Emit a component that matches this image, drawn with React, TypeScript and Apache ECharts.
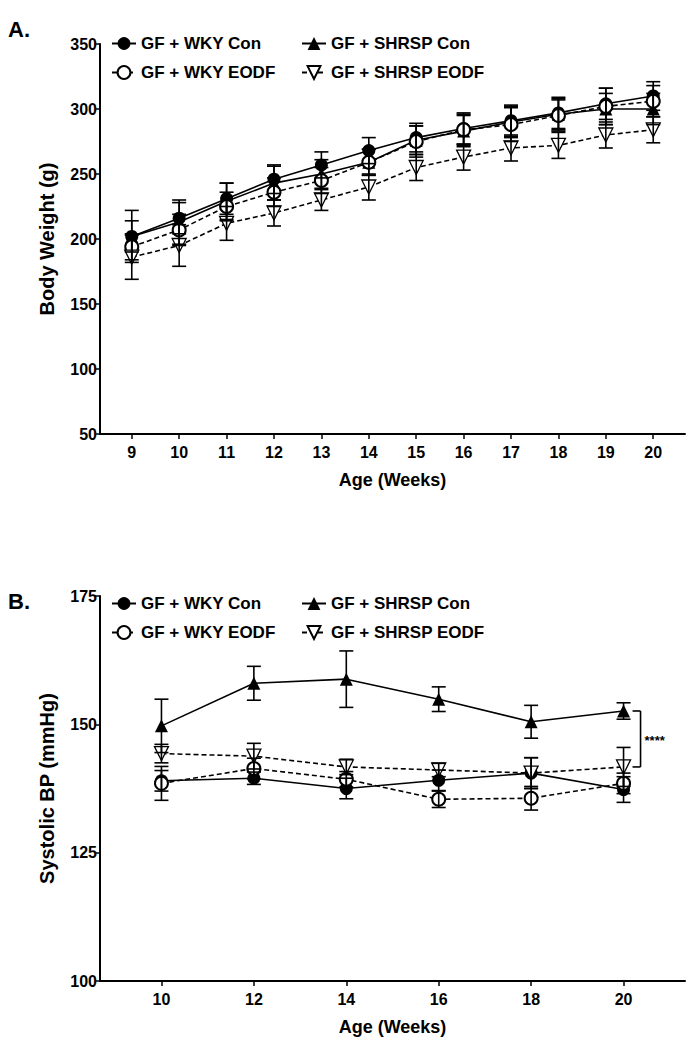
import React, { useEffect, useRef } from "react";
import * as echarts from "echarts";

const FONT = "'Liberation Sans', Arial, Helvetica, sans-serif";

// Panel A: body weight
const weeksA = [9, 10, 11, 12, 13, 14, 15, 16, 17, 18, 19, 20];
const wkyConA = [202, 216, 231, 246, 257, 268, 278, 285, 291, 297, 304, 310];
const wkyConAErr = [12, 12, 12, 11, 10, 10, 11, 12, 12, 12, 12, 11];
const shrspConA = [202, 213, 229, 243, 250, 259, 276, 283, 290, 296, 300, 300];
const shrspConAErr = [20, 17, 14, 13, 11, 10, 11, 12, 12, 12, 12, 12];
const wkyEodfA = [194, 207, 225, 236, 245, 259, 275, 284, 288, 295, 302, 306];
const wkyEodfAErr = [10, 12, 11, 11, 10, 10, 12, 12, 13, 12, 14, 12];
const shrspEodfA = [186, 195, 212, 220, 230, 240, 255, 263, 270, 272, 280, 284];
const shrspEodfAErr = [17, 16, 13, 10, 8, 10, 10, 10, 10, 10, 10, 10];

// Panel B: systolic BP
const weeksB = [10, 12, 14, 16, 18, 20];
const wkyConB = [139.0, 139.5, 137.5, 139.1, 140.5, 137.3];
const wkyConBErr = [2.0, 1.2, 2.0, 2.0, 3.0, 2.5];
const shrspConB = [149.7, 158.0, 158.8, 154.9, 150.5, 152.6];
const shrspConBErr = [5.2, 3.3, 5.5, 2.4, 3.2, 1.6];
const wkyEodfB = [138.5, 141.4, 139.3, 135.4, 135.6, 138.5];
const wkyEodfBErr = [3.3, 2.0, 1.5, 1.6, 2.3, 2.0];
const shrspEodfB = [144.3, 143.8, 141.7, 141.1, 140.5, 141.7];
const shrspEodfBErr = [1.8, 2.5, 1.5, 1.3, 3.0, 3.8];

const yTicksA = [50, 100, 150, 200, 250, 300, 350];
const yTicksB = [100, 125, 150, 175];
const sigLabel = "****";

const NAMES = ["GF + WKY Con", "GF + SHRSP Con", "GF + WKY EODF", "GF + SHRSP EODF"];
const INV_TRI = "path://M0,0 L10,0 L5,9 Z";

const styles: any[] = [
  { symbol: "circle", dash: "solid", item: { color: "#000" } },
  { symbol: "triangle", dash: "solid", item: { color: "#000" } },
  { symbol: "emptyCircle", dash: [5, 3], item: { color: "#000", borderWidth: 1.3 } },
  { symbol: INV_TRI, dash: [5, 3], item: { color: "#fff", borderColor: "#000", borderWidth: 1.3 } },
];

function errRender(params: any, api: any) {
  const x = api.value(0);
  const y = api.value(1);
  const e = api.value(2);
  const t = api.coord([x, y + e]);
  const b = api.coord([x, y - e]);
  const w = 7;
  const st = { stroke: "#000", lineWidth: 1.6 };
  return {
    type: "group",
    children: [
      { type: "line", shape: { x1: t[0], y1: t[1], x2: b[0], y2: b[1] }, style: st },
      { type: "line", shape: { x1: t[0] - w, y1: t[1], x2: t[0] + w, y2: t[1] }, style: st },
      { type: "line", shape: { x1: b[0] - w, y1: b[1], x2: b[0] + w, y2: b[1] }, style: st },
    ],
  };
}

function bracketRender(params: any, api: any) {
  const x = api.value(0);
  const p1 = api.coord([x, api.value(1)]);
  const p2 = api.coord([x, api.value(2)]);
  const bx = p1[0] + 17;
  const st = { stroke: "#000", lineWidth: 1.6 };
  return {
    type: "group",
    children: [
      { type: "line", shape: { x1: bx, y1: p1[1], x2: bx, y2: p2[1] }, style: st },
      { type: "line", shape: { x1: bx - 8, y1: p1[1], x2: bx, y2: p1[1] }, style: st },
      { type: "line", shape: { x1: bx - 8, y1: p2[1], x2: bx, y2: p2[1] }, style: st },
      {
        type: "text",
        x: bx + 4,
        y: (p1[1] + p2[1]) / 2 + 2,
        style: {
          text: sigLabel,
          font: "bold 13px " + FONT,
          fill: "#000",
          verticalAlign: "middle",
          align: "left",
        },
      },
    ],
  };
}

export default function App() {
  const ref = useRef<HTMLDivElement>(null);

  useEffect(() => {
    if (!ref.current) return;
    const chart = echarts.init(ref.current, null, { renderer: "svg" });

    const dataA = [wkyConA, shrspConA, wkyEodfA, shrspEodfA];
    const errA = [wkyConAErr, shrspConAErr, wkyEodfAErr, shrspEodfAErr];
    const dataB = [wkyConB, shrspConB, wkyEodfB, shrspEodfB];
    const errB = [wkyConBErr, shrspConBErr, wkyEodfBErr, shrspEodfBErr];

    const series: any[] = [];
    [0, 1].forEach((g) => {
      const weeks = g === 0 ? weeksA : weeksB;
      const data = g === 0 ? dataA : dataB;
      const err = g === 0 ? errA : errB;
      for (let i = 0; i < 4; i++) {
        const s = styles[i];
        series.push({
          type: "line",
          name: NAMES[i],
          xAxisIndex: g,
          yAxisIndex: g,
          data: weeks.map((w, k) => [w, data[i][k]]),
          symbol: s.symbol,
          symbolSize: i === 3 ? 14 : 13,
          showAllSymbol: true,
          lineStyle: { color: "#000", width: 1.6, type: s.dash },
          itemStyle: s.item,
          z: 2,
        });
      }
      for (let i = 0; i < 4; i++) {
        series.push({
          type: "custom",
          name: "err" + g + i,
          xAxisIndex: g,
          yAxisIndex: g,
          renderItem: errRender,
          data: weeks.map((w, k) => [w, data[i][k], err[i][k]]),
          z: 5,
          silent: true,
        });
      }
    });
    const lastB = weeksB.length - 1;
    series.push({
      type: "custom",
      name: "bracket",
      xAxisIndex: 1,
      yAxisIndex: 1,
      renderItem: bracketRender,
      data: [[weeksB[lastB], shrspConB[lastB], shrspEodfB[lastB]]],
      z: 6,
      silent: true,
      clip: false,
    });

    const legText = { fontSize: 17, fontWeight: "bold", color: "#000", fontFamily: FONT };
    const mkLegend = (left: number, top: number, data: string[]) => ({
      left,
      top,
      orient: "vertical",
      itemGap: 12,
      itemWidth: 24,
      itemHeight: 16,
      selectedMode: false,
      padding: 0,
      textStyle: legText,
      data,
    });

    const axisLabelStyle = { fontSize: 16, fontWeight: "bold", color: "#000", fontFamily: FONT };
    const xNameStyle = { fontSize: 18, fontWeight: "bold", color: "#000", fontFamily: FONT };
    const yNameStyle = { fontSize: 20, fontWeight: "bold", color: "#000", fontFamily: FONT };
    const axLine = { show: true, lineStyle: { color: "#000", width: 2 } };
    const axTick = { show: true, length: 5, lineStyle: { color: "#000", width: 1.5 } };

    chart.setOption({
      animation: false,
      textStyle: { fontFamily: FONT },
      grid: [
        { left: 100, width: 585, top: 44, height: 390 },
        { left: 100, width: 585, top: 596, height: 385 },
      ],
      xAxis: [
        {
          type: "value",
          gridIndex: 0,
          min: 8.33,
          max: 20.67,
          name: "Age (Weeks)",
          nameLocation: "middle",
          nameGap: 37,
          nameTextStyle: xNameStyle,
          axisLine: axLine,
          axisTick: { ...axTick, customValues: weeksA },
          axisLabel: { ...axisLabelStyle, margin: 10, customValues: weeksA },
          splitLine: { show: false },
        },
        {
          type: "value",
          gridIndex: 1,
          min: 8.67,
          max: 21.33,
          name: "Age (Weeks)",
          nameLocation: "middle",
          nameGap: 37,
          nameTextStyle: xNameStyle,
          axisLine: axLine,
          axisTick: { ...axTick, customValues: weeksB },
          axisLabel: { ...axisLabelStyle, margin: 10, customValues: weeksB },
          splitLine: { show: false },
        },
      ],
      yAxis: [
        {
          type: "value",
          gridIndex: 0,
          min: yTicksA[0],
          max: yTicksA[yTicksA.length - 1],
          interval: 50,
          name: "Body Weight (g)",
          nameLocation: "middle",
          nameGap: 43,
          nameTextStyle: yNameStyle,
          axisLine: axLine,
          axisTick: axTick,
          axisLabel: { ...axisLabelStyle, margin: 3 },
          splitLine: { show: false },
        },
        {
          type: "value",
          gridIndex: 1,
          min: yTicksB[0],
          max: yTicksB[yTicksB.length - 1],
          interval: 25,
          name: "Systolic BP (mmHg)",
          nameLocation: "middle",
          nameGap: 43,
          nameTextStyle: yNameStyle,
          axisLine: axLine,
          axisTick: axTick,
          axisLabel: { ...axisLabelStyle, margin: 3 },
          splitLine: { show: false },
        },
      ],
      legend: [
        mkLegend(111, 35, [NAMES[0], NAMES[2]]),
        mkLegend(301, 35, [NAMES[1], NAMES[3]]),
        mkLegend(111, 595, [NAMES[0], NAMES[2]]),
        mkLegend(301, 595, [NAMES[1], NAMES[3]]),
      ],
      graphic: [
        { type: "text", left: 8, top: 18, style: { text: "A.", font: "bold 22px " + FONT, fill: "#000" } },
        { type: "text", left: 8, top: 590, style: { text: "B.", font: "bold 22px " + FONT, fill: "#000" } },
      ],
      series,
    });

    return () => chart.dispose();
  }, []);

  return (
    <div
      ref={ref}
      style={{ position: "absolute", left: 0, top: 0, width: 696, height: 1050, background: "#fff" }}
    />
  );
}
